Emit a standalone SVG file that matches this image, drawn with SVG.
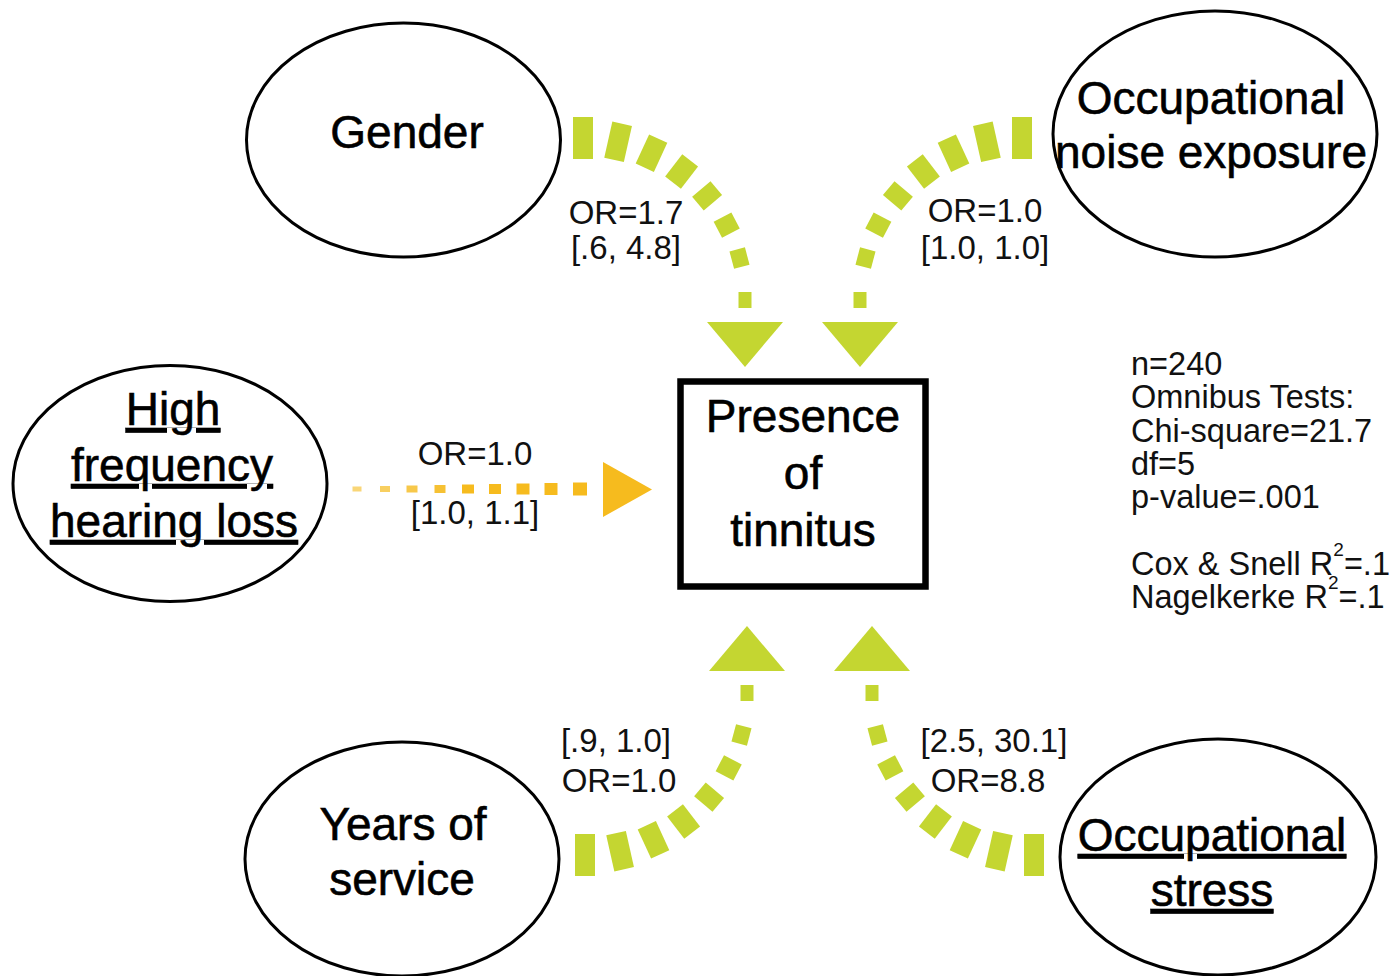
<svg xmlns="http://www.w3.org/2000/svg" xmlns:xlink="http://www.w3.org/1999/xlink" width="1391" height="976" viewBox="0 0 1391 976">
<style>
.node{fill:#fff;stroke:#000;stroke-width:3}
.box{fill:#fff;stroke:#000;stroke-width:6.5}
.lbl{font-family:"Liberation Sans",Arial,sans-serif;font-size:46px;fill:#000;stroke:#000;stroke-width:0.6;text-anchor:middle}
.u{text-decoration:underline}
.edge{font-family:"Liberation Sans",Arial,sans-serif;font-size:33px;fill:#111;text-anchor:middle}
.stat{font-family:"Liberation Sans",Arial,sans-serif;font-size:32.5px;fill:#111}
.g line{stroke:#C4D631;stroke-linecap:butt}
.o line{stroke:#F6BB1E;stroke-linecap:butt}
</style>
<defs>
<g id="curveArrow" class="g">
<line x1="573" y1="138" x2="593" y2="138" stroke-width="42"/>
<line x1="608.3" y1="139.6" x2="627.9" y2="144" stroke-width="37"/>
<line x1="642.4" y1="149" x2="660.6" y2="157.4" stroke-width="32"/>
<line x1="673.7" y1="165.4" x2="689.5" y2="177.6" stroke-width="28"/>
<line x1="701.3" y1="189" x2="712.9" y2="202.8" stroke-width="24"/>
<line x1="722.5" y1="217.2" x2="730.9" y2="233.2" stroke-width="20"/>
<line x1="737.2" y1="249.4" x2="741.8" y2="266.8" stroke-width="16"/>
<line x1="745" y1="292" x2="745" y2="308" stroke-width="13"/>
<polygon points="707,322 783,322 745,367" fill="#C4D631"/>
</g>
</defs>
<rect width="1391" height="976" fill="#fff"/>
<g id="connectors">
<use xlink:href="#curveArrow" href="#curveArrow"/>
<use xlink:href="#curveArrow" href="#curveArrow" transform="translate(1605,0) scale(-1,1)"/>
<use xlink:href="#curveArrow" href="#curveArrow" transform="translate(2,993) scale(1,-1)"/>
<use xlink:href="#curveArrow" href="#curveArrow" transform="translate(1617,993) scale(-1,-1)"/>
<g class="o">
<line x1="352.5" y1="489" x2="361.5" y2="489" stroke-width="5" opacity="0.6"/>
<line x1="380" y1="489" x2="390" y2="489" stroke-width="6" opacity="0.7"/>
<line x1="406.5" y1="489" x2="417.5" y2="489" stroke-width="7" opacity="0.8"/>
<line x1="434.5" y1="489" x2="445.5" y2="489" stroke-width="8" opacity="0.9"/>
<line x1="462" y1="489" x2="474" y2="489" stroke-width="9"/>
<line x1="489" y1="489" x2="501" y2="489" stroke-width="10"/>
<line x1="516.5" y1="489" x2="529.5" y2="489" stroke-width="11"/>
<line x1="544.5" y1="489" x2="557.5" y2="489" stroke-width="12"/>
<line x1="573" y1="489" x2="587" y2="489" stroke-width="13"/>
<polygon points="603,462 603,517 652,489.5" fill="#F6BB1E"/>
</g>
<text class="edge" x="626" y="224">OR=1.7</text>
<text class="edge" x="626" y="259">[.6, 4.8]</text>
<text class="edge" x="985" y="222">OR=1.0</text>
<text class="edge" x="985" y="259">[1.0, 1.0]</text>
<text class="edge" x="475" y="465">OR=1.0</text>
<text class="edge" x="475" y="524">[1.0, 1.1]</text>
<text class="edge" x="616" y="752">[.9, 1.0]</text>
<text class="edge" x="619" y="792">OR=1.0</text>
<text class="edge" x="994" y="752">[2.5, 30.1]</text>
<text class="edge" x="988" y="792">OR=8.8</text>
</g>
<g id="gender">
<ellipse class="node" cx="403.5" cy="140" rx="157" ry="117"/>
<text class="lbl" x="407" y="148">Gender</text>
</g>
<g id="noise">
<ellipse class="node" cx="1215" cy="134" rx="162" ry="123"/>
<text class="lbl" x="1211" y="114">Occupational</text>
<text class="lbl" x="1211" y="168">noise exposure</text>
</g>
<g id="hearing">
<ellipse class="node" cx="170" cy="483.5" rx="157" ry="118"/>
<text class="lbl u" x="173" y="425">High</text>
<text class="lbl u" x="172" y="481">frequency</text>
<text class="lbl u" x="174" y="537">hearing loss</text>
</g>
<g id="tinnitus">
<rect class="box" x="680.5" y="381.5" width="245" height="205"/>
<text class="lbl" x="803" y="432">Presence</text>
<text class="lbl" x="803" y="489">of</text>
<text class="lbl" x="803" y="546">tinnitus</text>
</g>
<g id="years">
<ellipse class="node" cx="402" cy="859" rx="157" ry="117"/>
<text class="lbl" x="403" y="840">Years of</text>
<text class="lbl" x="402" y="895">service</text>
</g>
<g id="stress">
<ellipse class="node" cx="1218" cy="857" rx="158" ry="118"/>
<text class="lbl u" x="1212" y="851">Occupational</text>
<text class="lbl u" x="1212" y="906">stress</text>
</g>
<g id="stats">
<text class="stat" x="1131" y="375">n=240</text>
<text class="stat" x="1131" y="408">Omnibus Tests:</text>
<text class="stat" x="1131" y="442">Chi-square=21.7</text>
<text class="stat" x="1131" y="475">df=5</text>
<text class="stat" x="1131" y="508">p-value=.001</text>
<text class="stat" x="1131" y="575">Cox &amp; Snell R<tspan dy="-19" font-size="19">2</tspan><tspan dy="19">=.1</tspan></text>
<text class="stat" x="1131" y="608">Nagelkerke R<tspan dy="-19" font-size="19">2</tspan><tspan dy="19">=.1</tspan></text>
</g>
</svg>
